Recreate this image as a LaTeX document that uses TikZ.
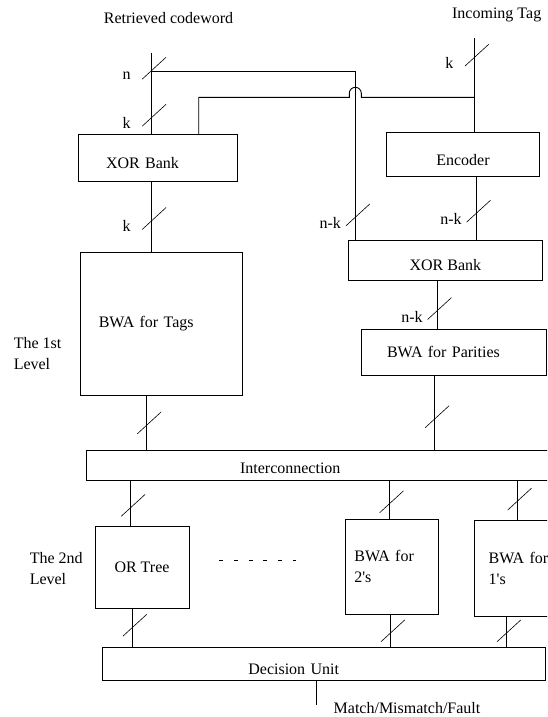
\documentclass[tikz,border=0pt]{standalone}
\usepackage{fontspec}
\setmainfont{Liberation Serif}
\tikzset{
  blk/.style={draw, inner ysep=2pt},
  low/.style={text height=#1, text depth=0pt},
  busmark/.style={inner sep=0pt, xshift=2.5pt, minimum width=24pt, minimum height=22pt,
    path picture={\draw[line width=.6pt] (path picture bounding box.south west) -- (path picture bounding box.north east);}},
  bus/.style={busmark, label={[shift={(-27.5,8)}]center:#1}},
}
\begin{document}
\begin{tikzpicture}[x=1pt, y=-1pt, line width=.9pt, font=\fontsize{16}{21}\selectfont]
\useasboundingbox (0,0) rectangle (547,717);
\clip (0,0) rectangle (547,717);
\path
(168.5,18.3) node (rc) {Retrieved codeword}
(496.7,15) node (it) {Incoming Tag}
(157.7,158) node[blk, low=20pt, minimum height=47.4pt, inner xsep=28pt, text width=103.3pt, align=left] (xorA) {XOR Bank}
(463,154.7) node[blk, low=21pt, minimum width=153.4pt, minimum height=44pt] (enc) {Encoder}
(445.4,260.4) node[blk, low=21pt, minimum width=194.7pt, minimum height=39.3pt] (xorB) {XOR Bank}
(161.2,323.7) node[blk, minimum height=142.7pt, inner xsep=18.4pt, text width=124.9pt, align=left] (tags) {BWA for Tags}
(453.5,352.2) node[blk, minimum height=45.7pt, inner xsep=26pt, text width=133pt, align=left] (par) {BWA for Parities}
(13.3,353.7) node[anchor=west, align=left, inner sep=0pt] (lvlA) {The 1st\\Level}
(328.2,465.4) node[blk, low=16pt, minimum height=29.3pt, inner xsep=153.7pt, text width=176.3pt, align=left] (inter) {Interconnection}
(142,567.4) node[blk, minimum width=94pt, minimum height=82.7pt] (ort) {OR Tree}
(391.7,566.9) node[blk, minimum height=95.7pt, inner xsep=9pt, text width=74.7pt, align=left] (bwaB) {BWA for\\2\textquotesingle s}
(524.3,568.4) node[blk, minimum height=95.3pt, inner xsep=14.4pt, text width=71.2pt, align=left] (bwaA) {BWA for\\1\textquotesingle s}
(29.3,569) node[anchor=west, align=left, inner sep=0pt] (lvlB) {The 2nd\\Level}
(323.7,663.5) node[blk, low=21pt, minimum height=33pt, inner xsep=146.3pt, text width=150.7pt, align=left] (dec) {Decision Unit}
(407,707.7) node (res) {Match/Mismatch/Fault};
% taps and columns
\path
(151.7,52.7) coordinate (cw)
(151.7,71.3) coordinate (jA)
(355.3,71.3) coordinate (jB)
(474.3,38.3) coordinate (tg)
(474.3,97.3) coordinate (jC)
(198.7,97.3) coordinate (jD)
(316.3,705) coordinate (outp)
(146.7,0) coordinate (xb)
(476,0) coordinate (xd)
(437,0) coordinate (xe)
(434.7,0) coordinate (xee)
(130.7,0) coordinate (xf)
(132.3,0) coordinate (xff)
(389,0) coordinate (xg)
(390.3,0) coordinate (xgg)
(517,0) coordinate (xh)
(506.3,0) coordinate (xhh);
\draw (cw) -- node[pos=.19, bus=n] (sn) {} node[pos=.77, bus=k] (sk) {} (cw |- xorA.north);
\draw (jA) -- (jB) -- node[pos=.85, bus=n-k] (snk) {} (jB |- xorB.north);
\draw (tg) -- node[pos=.18, bus=k] (stg) {} (tg |- enc.north);
\draw (jC) -- (361.3,97.3) -- ++(0,-4) arc[start angle=0, end angle=180, radius=6pt] -- ++(0,4) -- (jD) -- (jD |- xorA.north);
\draw (cw |- xorA.south) -- node[pos=.52, bus=k] (sxa) {} (cw |- tags.north);
\draw (xd |- enc.south) -- node[pos=.54, bus=n-k] (senc) {} (xd |- xorB.north);
\draw (xe |- xorB.south) -- node[pos=.58, bus=n-k] (sxb) {} (xe |- par.north);
\draw (xb |- tags.south) -- node[pos=.5, busmark] (stags) {} (xb |- inter.north);
\draw (xee |- par.south) -- node[pos=.55, busmark] (spar) {} (xee |- inter.north);
\draw (xf |- inter.south) -- node[pos=.55, busmark] (sor) {} (xf |- ort.north);
\draw (xg |- inter.south) -- node[pos=.56, busmark] (stwo) {} (xg |- bwaB.north);
\draw (xh |- inter.south) -- node[pos=.47, busmark] (sone) {} (xh |- bwaA.north);
\draw (xff |- ort.south) -- node[pos=.43, busmark] (dor) {} (xff |- dec.north);
\draw (xgg |- bwaB.south) -- node[pos=.5, busmark] (dtwo) {} (xgg |- dec.north);
\draw (xhh |- bwaA.south) -- node[pos=.48, busmark] (done) {} (xhh |- dec.north);
\draw (outp |- dec.south) -- (outp);
%\draw (dec) -- (res);
\draw[dash pattern=on 4pt off 10.7pt] (219.3,560) -- (296,560);
\end{tikzpicture}
\end{document}
